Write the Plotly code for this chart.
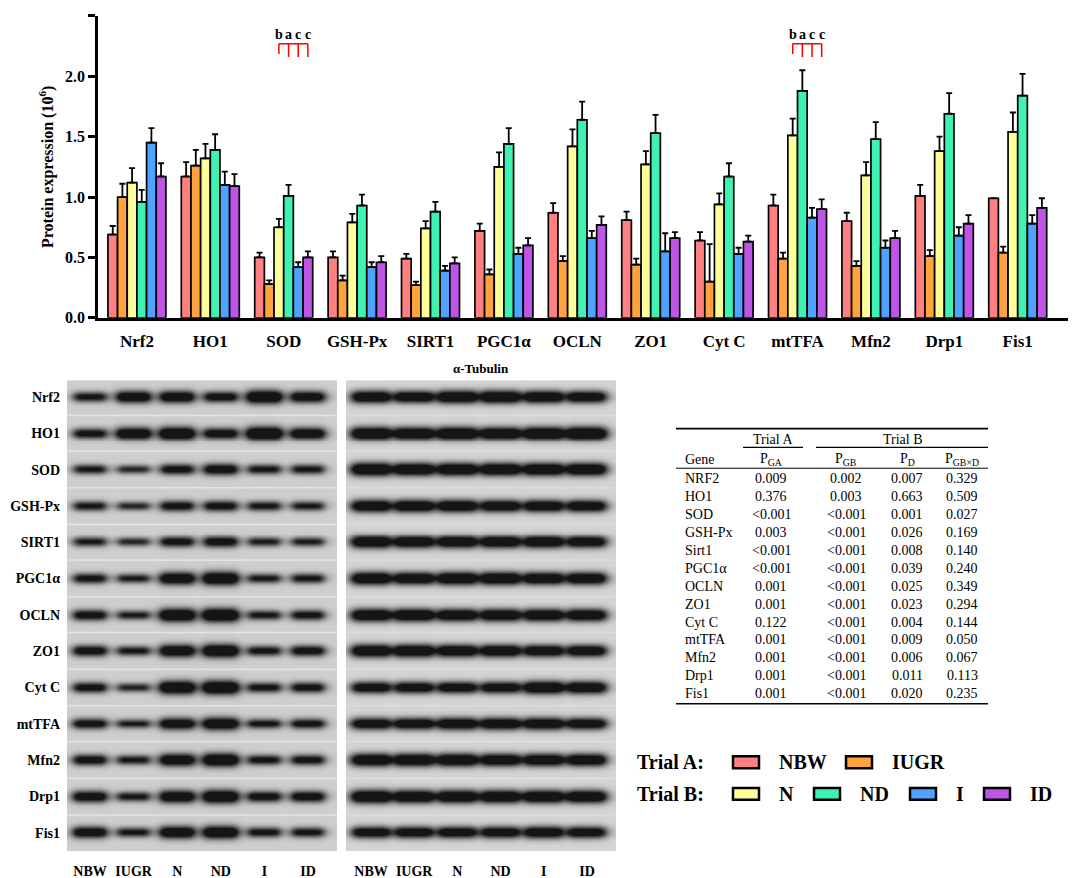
import numpy as np
import plotly.graph_objects as go

W, H = 1084, 878
FONT = "Liberation Serif"

# ---------------- data ----------------
genes = ["Nrf2", "HO1", "SOD", "GSH-Px", "SIRT1", "PGC1α", "OCLN", "ZO1",
         "Cyt C", "mtTFA", "Mfn2", "Drp1", "Fis1"]
groups = ["NBW", "IUGR", "N", "ND", "I", "ID"]
colors = ["#FF8080", "#FFA33F", "#FFFF99", "#40F2B2", "#4DA3FF", "#BF55E6"]

nbw = [0.69, 1.17, 0.50, 0.50, 0.49, 0.72, 0.87, 0.81, 0.64, 0.93, 0.80, 1.01, 0.99]
nbw_err = [0.07, 0.12, 0.04, 0.05, 0.04, 0.06, 0.08, 0.07, 0.07, 0.09, 0.07, 0.09, 0.0]
iugr = [1.00, 1.26, 0.28, 0.31, 0.27, 0.36, 0.47, 0.44, 0.30, 0.49, 0.43, 0.51, 0.54]
iugr_err = [0.11, 0.13, 0.03, 0.04, 0.03, 0.04, 0.04, 0.05, 0.31, 0.05, 0.04, 0.05, 0.05]
n_vals = [1.12, 1.32, 0.75, 0.79, 0.74, 1.25, 1.42, 1.27, 0.94, 1.51, 1.18, 1.38, 1.54]
n_err = [0.12, 0.12, 0.07, 0.07, 0.06, 0.12, 0.14, 0.11, 0.09, 0.14, 0.11, 0.12, 0.16]
nd_vals = [0.96, 1.39, 1.01, 0.93, 0.88, 1.44, 1.64, 1.53, 1.17, 1.88, 1.48, 1.69, 1.84]
nd_err = [0.10, 0.13, 0.09, 0.09, 0.08, 0.13, 0.15, 0.15, 0.11, 0.17, 0.14, 0.17, 0.18]
i_vals = [1.45, 1.10, 0.42, 0.42, 0.39, 0.53, 0.66, 0.55, 0.53, 0.83, 0.58, 0.68, 0.78]
i_err = [0.12, 0.11, 0.04, 0.04, 0.04, 0.05, 0.06, 0.15, 0.05, 0.08, 0.06, 0.07, 0.07]
id_vals = [1.17, 1.09, 0.50, 0.46, 0.45, 0.60, 0.77, 0.66, 0.63, 0.90, 0.66, 0.78, 0.91]
id_err = [0.11, 0.10, 0.05, 0.05, 0.05, 0.06, 0.07, 0.05, 0.05, 0.08, 0.06, 0.07, 0.08]

series = [nbw, iugr, n_vals, nd_vals, i_vals, id_vals]
series_err = [nbw_err, iugr_err, n_err, nd_err, i_err, id_err]

yticks = [0.0, 0.5, 1.0, 1.5, 2.0, 2.5]

sig_genes = ["SOD", "mtTFA"]
sig_groups = ["N", "ND", "I", "ID"]
sig_letters = [["b", "a", "c", "c"], ["b", "a", "c", "c"]]

# western blot band strengths (relative darkness)
blot_target = [
    [0.55, 0.80, 0.80, 0.65, 0.95, 0.75],
    [0.60, 0.85, 0.95, 0.70, 1.00, 0.80],
    [0.50, 0.38, 0.62, 0.72, 0.52, 0.52],
    [0.52, 0.38, 0.62, 0.62, 0.52, 0.48],
    [0.48, 0.38, 0.62, 0.68, 0.45, 0.45],
    [0.58, 0.45, 0.85, 0.95, 0.48, 0.52],
    [0.65, 0.45, 0.95, 1.00, 0.50, 0.58],
    [0.68, 0.50, 0.85, 0.95, 0.55, 0.65],
    [0.62, 0.40, 0.95, 1.00, 0.55, 0.60],
    [0.70, 0.50, 0.85, 0.95, 0.58, 0.65],
    [0.65, 0.50, 0.85, 0.95, 0.55, 0.60],
    [0.75, 0.50, 0.85, 0.95, 0.65, 0.70],
    [0.75, 0.50, 0.85, 0.90, 0.55, 0.55],
]
blot_tubulin = [
    [0.85, 0.80, 0.90, 0.90, 0.85, 0.80],
    [0.95, 0.90, 0.95, 0.90, 0.95, 1.00],
    [0.95, 0.90, 0.90, 0.90, 0.90, 0.90],
    [0.85, 0.85, 0.85, 0.80, 0.80, 0.80],
    [0.90, 0.85, 0.85, 0.85, 0.85, 0.80],
    [0.90, 0.85, 0.90, 0.90, 0.85, 0.85],
    [0.90, 0.90, 0.85, 0.85, 0.85, 0.85],
    [0.90, 0.90, 0.85, 0.85, 0.80, 0.80],
    [0.75, 0.75, 0.75, 0.75, 0.90, 0.85],
    [0.85, 0.85, 0.90, 0.90, 0.90, 0.85],
    [0.90, 0.90, 0.90, 0.85, 0.85, 0.85],
    [0.95, 0.90, 0.90, 0.90, 0.90, 0.90],
    [0.75, 0.75, 0.75, 0.75, 0.80, 0.75],
]

# statistics table
table_genes = ["NRF2", "HO1", "SOD", "GSH-Px", "Sirt1", "PGC1α", "OCLN", "ZO1",
               "Cyt C", "mtTFA", "Mfn2", "Drp1", "Fis1"]
p_ga = ["0.009", "0.376", "<0.001", "0.003", "<0.001", "<0.001", "0.001", "0.001",
        "0.122", "0.001", "0.001", "0.001", "0.001"]
p_gb = ["0.002", "0.003", "<0.001", "<0.001", "<0.001", "<0.001", "<0.001", "<0.001",
        "<0.001", "<0.001", "<0.001", "<0.001", "<0.001"]
p_d = ["0.007", "0.663", "0.001", "0.026", "0.008", "0.039", "0.025", "0.023",
       "0.004", "0.009", "0.006", "0.011", "0.020"]
p_gbxd = ["0.329", "0.509", "0.027", "0.169", "0.140", "0.240", "0.349", "0.294",
          "0.144", "0.050", "0.067", "0.113", "0.235"]

trial_a = ["NBW", "IUGR"]
trial_b = ["N", "ND", "I", "ID"]


# ---------------- helpers ----------------
def px(x):
    return x / W


def py(y):
    return 1 - y / H


def b(s):
    return f"<b>{s}</b>"


fig = go.Figure()

# ---------------- bar chart ----------------
BARGAP = 0.21
xidx = list(range(len(genes)))
for g, vals, errs, col in zip(groups, series, series_err, colors):
    fig.add_trace(go.Bar(
        x=xidx, y=vals, name=g,
        marker=dict(color=col, line=dict(color="black", width=1.7)),
        error_y=dict(type="data", symmetric=False, array=errs,
                     arrayminus=[0] * len(errs), color="black",
                     thickness=1.8, width=3),
        showlegend=False, hoverinfo="skip",
    ))

shapes = []
annotations = []


def note(x, y, text, font, xanchor="center", yanchor="middle", xref="paper", yref="paper"):
    annotations.append(dict(x=x, y=y, xref=xref, yref=yref, text=text, showarrow=False,
                            xanchor=xanchor, yanchor=yanchor, font=font))


# significance brackets
bw = (1 - BARGAP) / len(groups)
for gname, letters in zip(sig_genes, sig_letters):
    ci = genes.index(gname)
    xs = [ci - (1 - BARGAP) / 2 + (groups.index(s) + 0.5) * bw for s in sig_groups]
    top = 2.27
    shapes.append(dict(type="line", xref="x", yref="y", x0=xs[0], x1=xs[-1],
                       y0=top, y1=top, line=dict(color="red", width=1.5)))
    for j, (xx, lt) in enumerate(zip(xs, letters)):
        bottom = 2.185 if j == 0 else 2.16
        shapes.append(dict(type="line", xref="x", yref="y", x0=xx, x1=xx,
                           y0=top, y1=bottom, line=dict(color="red", width=1.5)))
        note(xx, 2.35, b(lt), dict(family=FONT, size=14, color="black"),
             xref="x", yref="y")

# ---------------- western blots (heatmap) ----------------
PANEL_W = 270
PANEL_H = 476
BLOT_X0 = 59
BLOT_Y0 = 376
RIGHT_OFF = 279
ROW0, ROW_STEP = 17.0, 36.7
left_centers = [23 + 43.6 * k for k in range(6)]
right_centers = [25 + 43.2 * k for k in range(6)]


def blot_image(strengths, centers, bg, hw_base, sep_amp):
    xs = np.arange(PANEL_W) + 0.5
    ys = np.arange(PANEL_H) + 0.5
    X, Y = np.meshgrid(xs, ys)
    dark = np.zeros_like(X)
    for i, row in enumerate(strengths):
        cy = ROW0 + ROW_STEP * i
        for k, s in enumerate(row):
            cx = centers[k]
            hw = hw_base + 3 * s
            sy = 2.0 + 3.0 * s
            peak = 0.5 + 0.85 * s
            hprof = 1.0 / (1.0 + np.abs((X - cx) / hw) ** 6)
            vprof = np.exp(-0.5 * ((Y - cy) / sy) ** 2)
            dark += peak * hprof * vprof
    dark = np.clip(dark, 0, 0.9)
    img = bg * (1 - dark)
    for i in range(1, len(strengths)):
        ysep = ROW0 + ROW_STEP * (i - 0.5)
        img += sep_amp * np.exp(-((Y - ysep) / 0.9) ** 2)
    return np.clip(np.round(img), 0, 255).astype(int)


img_left = blot_image(blot_target, left_centers, 206, 15, 22)
img_right = blot_image(blot_tubulin, right_centers, 212, 17, 8)

gray = [[0, "rgb(0,0,0)"], [1, "rgb(255,255,255)"]]
fig.add_trace(go.Heatmap(z=img_left.tolist(), x0=0.5, dx=1, y0=0.5, dy=1,
                         xaxis="x2", yaxis="y2", colorscale=gray, zmin=0, zmax=255,
                         showscale=False, hoverinfo="skip"))
fig.add_trace(go.Heatmap(z=img_right.tolist(), x0=RIGHT_OFF + 0.5, dx=1, y0=0.5, dy=1,
                         xaxis="x2", yaxis="y2", colorscale=gray, zmin=0, zmax=255,
                         showscale=False, hoverinfo="skip"))

note(px(BLOT_X0 + RIGHT_OFF + PANEL_W / 2), py(364), b("α-Tubulin"),
     dict(family=FONT, size=13, color="black"))

# ---------------- statistics table ----------------
TFONT = dict(family=FONT, size=14, color="black")
T_X0, T_X1 = 668, 980
col_gene_x = 675
col_x = [763, 838, 899, 954]
row0_y, row_step = 475, 18.17

for (x0, x1, yy, lw) in [(T_X0, T_X1, 425, 1.6), (735, 795, 444, 1.2),
                         (808, T_X1, 444, 1.2), (T_X0, T_X1, 465, 1.0),
                         (T_X0, T_X1, 703, 1.6)]:
    shapes.append(dict(type="line", xref="paper", yref="paper", x0=px(x0), x1=px(x1),
                       y0=py(yy), y1=py(yy), line=dict(color="black", width=lw)))

note(px(765), py(436), "Trial A", TFONT)
note(px(895), py(436), "Trial B", TFONT)
note(px(col_gene_x), py(456), "Gene", TFONT, xanchor="left")
headers = ["P<sub>GA</sub>", "P<sub>GB</sub>", "P<sub>D</sub>", "P<sub>GB×D</sub>"]
for hx, ht in zip(col_x, headers):
    note(px(hx), py(456), ht, TFONT)

for r, (gname, a, bb, c, d) in enumerate(zip(table_genes, p_ga, p_gb, p_d, p_gbxd)):
    yy = py(row0_y + r * row_step)
    note(px(col_gene_x), yy, gname, TFONT, xanchor="left")
    for cx, val in zip(col_x, [a, bb, c, d]):
        note(px(cx), yy, val.replace("<", "&lt;"), TFONT)

# ---------------- custom legend ----------------
LFONT = dict(family=FONT, size=20, color="black")
legend_rows = [("Trial A:", trial_a, 762), ("Trial B:", trial_b, 794)]
BOX_W, BOX_H = 26, 12
text_w = {"NBW": 47, "IUGR": 56, "N": 15, "ND": 30, "I": 8, "ID": 22}
for title, items, ly in legend_rows:
    note(px(698), py(ly), b(title), LFONT, xanchor="right")
    cur = 725
    for it in items:
        col = colors[groups.index(it)]
        shapes.append(dict(type="rect", xref="paper", yref="paper",
                           x0=px(cur), x1=px(cur + BOX_W),
                           y0=py(ly + BOX_H / 2), y1=py(ly - BOX_H / 2),
                           fillcolor=col, line=dict(color="black", width=2.5)))
        note(px(cur + BOX_W + 18), py(ly), b(it), LFONT, xanchor="left")
        cur = cur + BOX_W + 18 + text_w[it] + 22

# ---------------- layout ----------------
fig.update_layout(
    width=W, height=H,
    margin=dict(l=0, r=0, t=0, b=0),
    paper_bgcolor="white", plot_bgcolor="white",
    barmode="group", bargap=BARGAP, bargroupgap=0,
    font=dict(family=FONT, color="black"),
    xaxis=dict(domain=[px(90), px(1060)], range=[-0.53, 12.685],
               tickvals=xidx, ticktext=[b(g) for g in genes], showline=True,
               linecolor="black", linewidth=2.5, ticks="", showgrid=False,
               zeroline=False, tickfont=dict(family=FONT, size=17, color="black"),
               ticklabelstandoff=6, anchor="y"),
    yaxis=dict(domain=[py(313), py(8)], range=[0, 2.5], tickvals=yticks,
               ticktext=[b(f"{v:.1f}") for v in yticks],
               showline=True, linecolor="black", linewidth=2.5,
               ticks="outside", ticklen=7, tickwidth=2.5, tickcolor="black",
               showgrid=False, zeroline=False,
               tickfont=dict(family=FONT, size=16, color="black"),
               title=dict(text=b("Protein expression (10<sup>6</sup>)"), standoff=8,
                          font=dict(family=FONT, size=16, color="black")),
               anchor="x"),
    xaxis2=dict(domain=[px(BLOT_X0), px(BLOT_X0 + RIGHT_OFF + PANEL_W)],
                range=[0, RIGHT_OFF + PANEL_W], anchor="y2",
                tickvals=left_centers + [RIGHT_OFF + c for c in right_centers],
                ticktext=[b(g) for g in groups + groups], ticks="", showline=False,
                showgrid=False, zeroline=False, ticklabelstandoff=10,
                tickfont=dict(family=FONT, size=14, color="black")),
    yaxis2=dict(domain=[py(BLOT_Y0 + PANEL_H), py(BLOT_Y0)], range=[PANEL_H, 0],
                anchor="x2",
                tickvals=[ROW0 + ROW_STEP * i for i in range(len(genes))],
                ticktext=[b(g) for g in genes], ticks="", showline=False,
                showgrid=False, zeroline=False, ticklabelstandoff=6,
                tickfont=dict(family=FONT, size=14, color="black")),
    shapes=shapes,
    annotations=annotations,
)

fig.write_html("out.html")
